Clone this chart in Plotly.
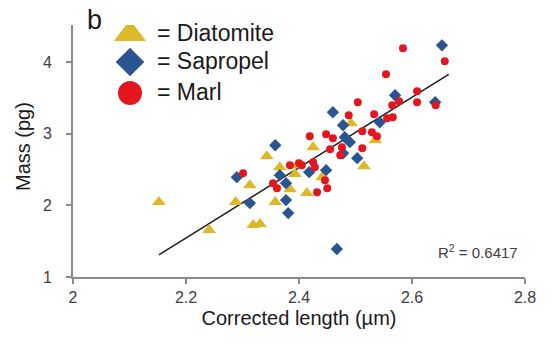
import plotly.graph_objects as go

# ---- data ----
diat_x = [2.152, 2.241, 2.288, 2.313, 2.319, 2.331, 2.343, 2.358, 2.366, 2.384,
          2.393, 2.396, 2.414, 2.425, 2.441, 2.492, 2.515, 2.535]
diat_y = [2.046, 1.656, 2.046, 2.283, 1.725, 1.739, 2.688, 2.046, 2.534, 2.227,
          2.437, 2.562, 2.172, 2.813, 2.395, 3.148, 2.548, 2.911]

sapr_x = [2.290, 2.313, 2.358, 2.366, 2.377, 2.377, 2.381, 2.418, 2.448, 2.460,
          2.478, 2.481, 2.490, 2.478, 2.503, 2.543, 2.570, 2.641, 2.653, 2.467]
sapr_y = [2.395, 2.032, 2.841, 2.423, 2.311, 2.074, 1.893, 2.464, 2.492, 3.301,
          3.120, 2.953, 2.883, 2.729, 2.660, 3.162, 3.538, 3.441, 4.236, 1.391]

marl_x = [2.301, 2.354, 2.361, 2.384, 2.400, 2.405, 2.425, 2.428, 2.432, 2.450,
          2.446, 2.419, 2.448, 2.460, 2.455, 2.476, 2.473, 2.488, 2.504, 2.512,
          2.512, 2.529, 2.533, 2.538, 2.554, 2.556, 2.565, 2.566, 2.577, 2.584,
          2.609, 2.609, 2.642, 2.658]
marl_y = [2.450, 2.311, 2.241, 2.562, 2.590, 2.562, 2.604, 2.534, 2.185, 2.241,
          2.353, 2.967, 2.994, 2.939, 2.785, 2.813, 2.702, 3.259, 3.441, 3.036,
          2.799, 3.022, 3.273, 2.967, 3.831, 3.218, 3.399, 3.232, 3.455, 4.194,
          3.594, 3.441, 3.399, 4.013]

trend_x = [2.152, 2.665]
trend_y = [1.31, 3.83]

legend_labels = ["= Diatomite", "= Sapropel", "= Marl"]
panel_label = "b"
r2_text = "R<sup>2</sup> = 0.6417"
x_title = "Corrected length (µm)"
y_title = "Mass (pg)"

x_ticks = [2, 2.2, 2.4, 2.6, 2.8]
x_ticklabels = ["2", "2.2", "2.4", "2.6", "2.8"]
y_ticks = [1, 2, 3, 4]
y_ticklabels = ["1", "2", "3", "4"]

# ---- styles ----
YEL = "#DDB92A"
BLU = "#2A5590"
RED = "#E3161F"
AXC = "#8a8a8a"
TXT = "#404040"
FONT = "Liberation Sans, Arial, sans-serif"

fig = go.Figure()

fig.add_trace(go.Scatter(x=trend_x, y=trend_y, mode="lines",
                         line=dict(color="#1a1a1a", width=1.4), hoverinfo="skip"))
fig.add_trace(go.Scatter(x=diat_x, y=diat_y, mode="markers", name="Diatomite",
                         marker=dict(symbol="triangle-up", size=12, color=YEL, opacity=1,
                                     line=dict(width=0))))
fig.add_trace(go.Scatter(x=sapr_x, y=sapr_y, mode="markers", name="Sapropel",
                         marker=dict(symbol="diamond", size=9.5, color=BLU, opacity=1,
                                     line=dict(width=0))))
fig.add_trace(go.Scatter(x=marl_x, y=marl_y, mode="markers", name="Marl",
                         marker=dict(symbol="circle", size=8, color=RED, opacity=1,
                                     line=dict(width=0))))

# legend keys on an overlay axis measured in pixels of the plot area
leg_px_x = [130, 130, 130]
leg_px_y = [34, 62, 93]
leg_symbols = ["triangle-up", "diamond", "circle"]
leg_colors = [YEL, BLU, RED]
leg_sizes = [28, 22, 24]
fig.add_trace(go.Scatter(x=leg_px_x, y=leg_px_y, xaxis="x2", yaxis="y2", mode="markers",
                         marker=dict(symbol=leg_symbols, size=leg_sizes, color=leg_colors,
                                     opacity=1, line=dict(width=0)), hoverinfo="skip"))

for lab, py in zip(legend_labels, leg_px_y):
    fig.add_annotation(x=155, y=py - 1, xref="x2", yref="y2", text=lab, showarrow=False,
                       xanchor="left", yanchor="middle",
                       font=dict(size=23, color="#1a1a1a", family=FONT))

# y tick labels, set further from the axis than Plotly's default
for v, lab in zip(y_ticks, y_ticklabels):
    fig.add_annotation(x=(47 - 73) / 452, y=v, xref="paper", yref="y", text=lab,
                       showarrow=False, xanchor="center", yanchor="middle",
                       font=dict(size=16, color=TXT, family=FONT))

fig.add_annotation(x=(94 - 73) / 452, y=(277 - 20) / 252, xref="paper", yref="paper",
                   text=panel_label, showarrow=False, xanchor="center", yanchor="middle",
                   font=dict(size=27, color="#1a1a1a", family=FONT))

fig.add_annotation(x=(23 - 73) / 452, y=(277 - 147) / 252, xref="paper", yref="paper",
                   text=y_title, showarrow=False, textangle=-90,
                   xanchor="center", yanchor="middle",
                   font=dict(size=20, color="#1a1a1a", family=FONT))

fig.add_annotation(x=520, y=251, xref="x2", yref="y2", text=r2_text, showarrow=False,
                   xanchor="right", yanchor="middle",
                   font=dict(size=15, color=TXT, family=FONT))

fig.update_layout(
    width=556, height=345,
    margin=dict(l=73, r=31, t=25, b=68),
    paper_bgcolor="white", plot_bgcolor="white",
    showlegend=False,
    font=dict(family=FONT, color=TXT),
    xaxis=dict(range=[2, 2.8], tickvals=x_ticks, ticktext=x_ticklabels,
               showgrid=False, zeroline=False, showline=True, linecolor=AXC, linewidth=1.5,
               ticks="outside", ticklen=5, tickcolor=AXC, tickwidth=1.5,
               tickfont=dict(size=16, color=TXT),
               title=dict(text=x_title, font=dict(size=20, color="#1a1a1a"), standoff=6)),
    yaxis=dict(range=[1, 4.52], tickvals=y_ticks, showticklabels=False,
               showgrid=False, zeroline=False, showline=True, linecolor=AXC, linewidth=1.5,
               ticks="outside", ticklen=5, tickcolor=AXC, tickwidth=1.5),
    xaxis2=dict(range=[73, 525], overlaying="x", visible=False, fixedrange=True),
    yaxis2=dict(range=[277, 25], overlaying="y", visible=False, fixedrange=True),
)

fig.write_html("out.html")
